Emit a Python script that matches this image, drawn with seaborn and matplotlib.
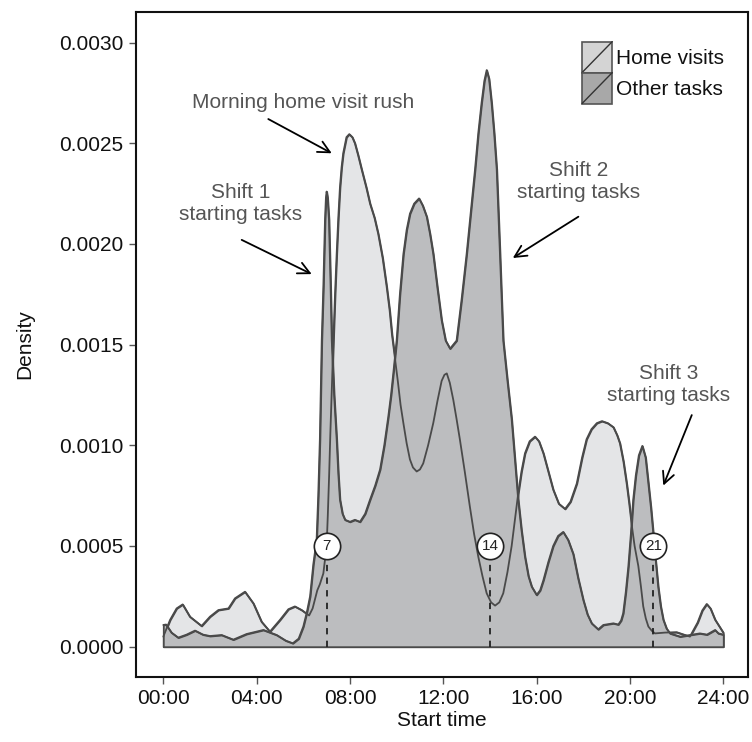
import matplotlib
matplotlib.use("Agg")
import matplotlib.pyplot as plt
import seaborn as sns
import pandas as pd
from matplotlib.patches import Rectangle
from matplotlib.lines import Line2D
from matplotlib.legend_handler import HandlerBase
from matplotlib.ticker import FormatStrFormatter

# ---------------- data ----------------
home_hours = [0.0, 0.29, 0.57, 0.83, 1.14, 1.64, 2.0, 2.36, 2.79, 3.07, 3.5, 3.86, 4.21,
              4.57, 5.0, 5.36, 5.64, 5.93, 6.25, 6.4, 6.5, 6.6, 6.71, 6.86, 7.0, 7.05,
              7.11, 7.16, 7.22, 7.29, 7.36, 7.43, 7.5, 7.57, 7.64, 7.71, 7.85, 7.97, 8.1,
              8.21, 8.35, 8.5, 8.7, 8.86, 9.05, 9.21, 9.4, 9.57, 9.7, 9.8, 9.93, 10.05,
              10.17, 10.29, 10.43, 10.57, 10.7, 10.86, 11.0, 11.14, 11.35, 11.57, 11.75,
              11.93, 12.05, 12.15, 12.28, 12.43, 12.57, 12.71, 12.92, 13.14, 13.32, 13.5,
              13.68, 13.86, 14.05, 14.22, 14.4, 14.57, 14.75, 14.93, 15.07, 15.21, 15.35,
              15.5, 15.7, 15.93, 16.1, 16.29, 16.5, 16.71, 16.95, 17.22, 17.45, 17.72,
              17.95, 18.14, 18.35, 18.58, 18.8, 19.05, 19.29, 19.45, 19.57, 19.72, 19.86,
              19.97, 20.07, 20.2, 20.36, 20.47, 20.57, 20.68, 20.79, 20.93, 21.07, 21.5,
              22.0, 22.57, 22.9, 23.1, 23.29, 23.45, 23.65, 24.0]
home_density = [0.00005, 0.000133, 0.00019, 0.00021, 0.000149, 0.000103, 0.000149, 0.000182,
                0.00019, 0.00024, 0.000273, 0.000215, 0.000124, 0.000075, 0.000133,
                0.000186, 0.0002, 0.000182, 0.000155, 0.00019, 0.000235, 0.00028, 0.00031,
                0.000364, 0.0005, 0.00065, 0.00086, 0.00106, 0.00127, 0.00152, 0.00175,
                0.00195, 0.00213, 0.00228, 0.00238, 0.00245, 0.00253, 0.002545, 0.00253,
                0.0025, 0.00244, 0.00237, 0.00228, 0.0022, 0.00213, 0.00205, 0.00193,
                0.00179, 0.00167, 0.00155, 0.00143, 0.00132, 0.0012, 0.00111, 0.00101,
                0.00093, 0.00089, 0.00087, 0.00088, 0.00091, 0.001, 0.00111, 0.00122,
                0.00132, 0.00135, 0.001357, 0.00131, 0.001225, 0.00113, 0.00103, 0.00087,
                0.000695, 0.00056, 0.000447, 0.00035, 0.000265, 0.00022, 0.000204, 0.00022,
                0.000265, 0.00037, 0.0005, 0.00063, 0.00076, 0.00087, 0.00096, 0.00102,
                0.001043, 0.00102, 0.00096, 0.00087, 0.00078, 0.00071, 0.000684, 0.00072,
                0.00081, 0.00094, 0.00103, 0.00108, 0.00111, 0.00112, 0.00111, 0.00109,
                0.00105, 0.00101, 0.00092, 0.00081, 0.00071, 0.00061, 0.0005, 0.0004,
                0.0003, 0.0002, 0.00014, 0.0001, 0.00008, 0.000066, 0.00007, 0.000072,
                0.00005, 0.00012, 0.00018, 0.000212, 0.00019, 0.000134, 0.00007]

other_hours = [0.0, 0.12, 0.35, 0.64, 1.0, 1.36, 1.7, 2.0, 2.5, 3.0, 3.57, 4.29, 4.86, 5.25,
               5.55, 5.8, 6.0, 6.15, 6.29, 6.43, 6.57, 6.64, 6.71, 6.79, 6.86, 6.93, 6.97,
               7.0, 7.04, 7.1, 7.17, 7.22, 7.32, 7.43, 7.5, 7.57, 7.68, 7.79, 8.0, 8.21,
               8.43, 8.65, 8.86, 9.08, 9.29, 9.47, 9.64, 9.76, 9.86, 10.0, 10.14, 10.29,
               10.43, 10.57, 10.75, 10.96, 11.12, 11.29, 11.43, 11.57, 11.75, 11.93, 12.1,
               12.29, 12.43, 12.57, 12.78, 13.0, 13.18, 13.36, 13.5, 13.64, 13.76, 13.86,
               13.96, 14.07, 14.18, 14.29, 14.36, 14.43, 14.5, 14.57, 14.75, 14.93, 15.07,
               15.21, 15.35, 15.5, 15.65, 15.79, 16.0, 16.15, 16.29, 16.5, 16.71, 16.92,
               17.14, 17.35, 17.57, 17.78, 18.0, 18.18, 18.36, 18.64, 18.86, 19.29, 19.5,
               19.62, 19.71, 19.82, 19.93, 20.04, 20.14, 20.25, 20.38, 20.53, 20.67, 20.79,
               20.9, 21.0, 21.1, 21.21, 21.32, 21.43, 21.57, 21.72, 22.15, 22.57, 23.0,
               23.3, 23.65, 23.79, 24.0]
other_density = [0.000108, 0.00011, 0.00007, 0.000045, 0.00006, 0.00008, 0.00006, 0.000053,
                 0.000058, 0.000035, 0.000063, 0.000083, 0.000058, 0.00003, 0.000017,
                 0.00004, 0.0001, 0.00017, 0.00025, 0.00041, 0.00053, 0.00075, 0.00103,
                 0.00152, 0.00179, 0.00212, 0.00223, 0.00226, 0.00223, 0.00212, 0.00179,
                 0.00152, 0.00125, 0.00103, 0.00086, 0.00073, 0.00066, 0.00063, 0.00062,
                 0.00063, 0.00062, 0.00066, 0.00073, 0.0008, 0.00088, 0.001, 0.00114,
                 0.00125, 0.00136, 0.00152, 0.00175, 0.00195, 0.00207, 0.00215, 0.0022,
                 0.002226, 0.00219, 0.002135, 0.00205, 0.00195, 0.00178, 0.00162, 0.00152,
                 0.00148, 0.0015, 0.00152, 0.00172, 0.00195, 0.00216, 0.00237, 0.00255,
                 0.0027, 0.00281, 0.002863, 0.00282, 0.0027, 0.00255, 0.00237, 0.00216,
                 0.00195, 0.00173, 0.00152, 0.00132, 0.00113, 0.00093, 0.00073, 0.00058,
                 0.000447, 0.00035, 0.000298, 0.000257, 0.00028, 0.00033, 0.00042, 0.0005,
                 0.00055, 0.00057, 0.00053, 0.00046, 0.00034, 0.000232, 0.00016, 0.000116,
                 0.000086, 0.000108, 0.000116, 0.00011, 0.00013, 0.000166, 0.00027,
                 0.000397, 0.00056, 0.00073, 0.00085, 0.00095, 0.000997, 0.00094, 0.00081,
                 0.00069, 0.000563, 0.00043, 0.000298, 0.0002, 0.000134, 0.00009, 0.000066,
                 0.00005, 0.000058, 0.000066, 0.00006, 0.000083, 0.000066, 0.00006]

series_names = ["Home visits", "Other tasks"]
shift_hours = [7, 14, 21]
shift_labels = ["7", "14", "21"]
marker_density = 0.0005

x_ticks = [0, 4, 8, 12, 16, 20, 24]
x_tick_labels = ["00:00", "04:00", "08:00", "12:00", "16:00", "20:00", "24:00"]
y_ticks = [0.0, 0.0005, 0.0010, 0.0015, 0.0020, 0.0025, 0.0030]

# annotations: text, text position, arrow start, arrow end (data coords)
annotations = [
    ("Morning home visit rush", (6.0, 0.00270), (4.5, 0.00262), (7.22, 0.00245)),
    ("Shift 1\nstarting tasks", (3.33, 0.00220), (3.36, 0.00202), (6.36, 0.00185)),
    ("Shift 2\nstarting tasks", (17.8, 0.00231), (17.79, 0.002135), (14.98, 0.00193)),
    ("Shift 3\nstarting tasks", (21.65, 0.00130), (22.65, 0.00115), (21.43, 0.00080)),
]

# ---------------- style ----------------
sns.set_theme(style="white")
plt.rcParams["font.family"] = ["Liberation Sans", "DejaVu Sans"]

home_fill = "#e4e5e7"
other_fill = "#bcbdbf"
line_col = "#4a4a4a"

home_df = pd.DataFrame({"hour": home_hours, "density": home_density, "type": series_names[0]})
other_df = pd.DataFrame({"hour": other_hours, "density": other_density, "type": series_names[1]})
df = pd.concat([home_df, other_df], ignore_index=True)

fig = plt.figure(figsize=(7.52, 7.42), dpi=100)
ax = fig.add_axes([136 / 752, 1 - 676.7 / 742, 612 / 752, 665 / 742])

ax.fill_between(home_df["hour"], home_df["density"], 0, facecolor=home_fill,
                edgecolor=line_col, linewidth=1.3, zorder=1)
ax.fill_between(other_df["hour"], other_df["density"], 0, facecolor=other_fill,
                edgecolor=line_col, linewidth=1.3, zorder=2)
sns.lineplot(data=df, x="hour", y="density", hue="type", units="type", estimator=None,
             palette={series_names[0]: line_col, series_names[1]: line_col},
             linewidth=1.3, legend=False, ax=ax, zorder=3, sort=True)

# shift markers
ax.vlines(shift_hours, 0, marker_density, colors="#222222", linestyles=(0, (3.5, 3.5)),
          linewidth=1.3, zorder=4)
ax.scatter(shift_hours, [marker_density] * len(shift_hours), s=360, facecolor="white",
           edgecolor="#222222", linewidth=1.2, zorder=5)
for h, lab in zip(shift_hours, shift_labels):
    ax.text(h, marker_density, lab, ha="center", va="center", fontsize=11,
            color="#222222", zorder=6)

# annotations
for text, tpos, astart, aend in annotations:
    ax.text(tpos[0], tpos[1], text, ha="center", va="center", fontsize=15,
            color="#555555", linespacing=1.2, zorder=6)
    ax.annotate("", xy=aend, xytext=astart,
                arrowprops=dict(arrowstyle="->,head_length=0.7,head_width=0.35",
                                color="black", lw=1.3, shrinkA=0, shrinkB=0), zorder=6)

# axes
ax.set_xlim(-1.17, 25.06)
ax.set_ylim(-0.000149, 0.003153)
ax.set_xticks(x_ticks)
ax.set_xticklabels(x_tick_labels)
ax.set_yticks(y_ticks)
ax.yaxis.set_major_formatter(FormatStrFormatter("%.4f"))
ax.tick_params(axis="both", which="major", direction="out", length=5, width=1,
               color="#555555", labelsize=15, labelcolor="#111111", pad=4,
               bottom=True, left=True)
for sp in ax.spines.values():
    sp.set_color("#111111")
    sp.set_linewidth(1.5)
ax.set_xlabel("Start time", fontsize=15, color="#111111", labelpad=2)
ax.set_ylabel("Density", fontsize=15, color="#111111", labelpad=18)
ax.grid(False)


# legend
class SwatchHandler(HandlerBase):
    def create_artists(self, legend, orig_handle, xdescent, ydescent, width, height,
                       fontsize, trans):
        x0, y0 = -xdescent, -ydescent
        r = Rectangle((x0, y0), width, height, facecolor=orig_handle.get_facecolor(),
                      edgecolor="#555555", lw=1.2, transform=trans)
        l = Line2D([x0, x0 + width], [y0, y0 + height], color="#333333", lw=1.0,
                   transform=trans)
        return [r, l]


handles = [Rectangle((0, 0), 1, 1, facecolor="#d4d4d4"),
           Rectangle((0, 0), 1, 1, facecolor="#a8a8a8")]
leg = ax.legend(handles, series_names, handler_map={Rectangle: SwatchHandler()},
                loc="upper left", bbox_to_anchor=(0.7288, 0.955), frameon=False,
                fontsize=15, handlelength=1.45, handleheight=1.91, labelspacing=0.0,
                handletextpad=0.2, borderpad=0, borderaxespad=0)
for t in leg.get_texts():
    t.set_color("#111111")

fig.savefig("out.png", dpi=100)
